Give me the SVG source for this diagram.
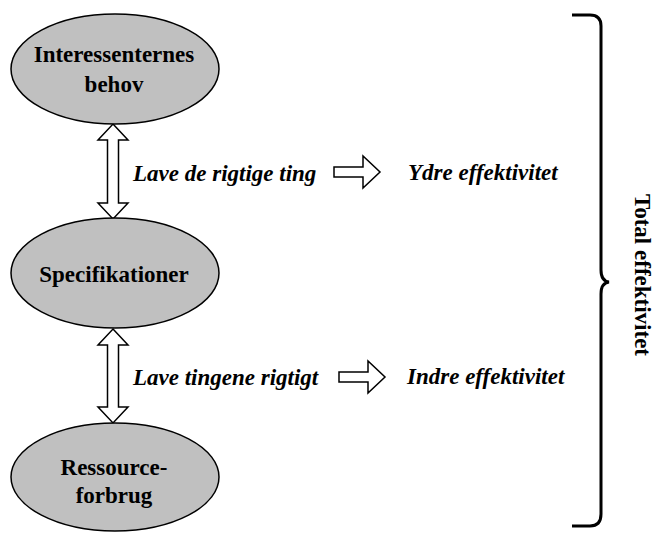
<svg xmlns="http://www.w3.org/2000/svg" width="654" height="535" viewBox="0 0 654 535">
  <style>
    .node { fill: #c0c0c0; stroke: #000; stroke-width: 1.5; }
    .label { font-family: "Liberation Serif", "Times New Roman", serif; font-weight: bold; font-size: 23px; fill: #000; text-anchor: middle; }
    .note { font-family: "Liberation Serif", "Times New Roman", serif; font-weight: bold; font-style: italic; font-size: 23px; fill: #000; }
    .arrow { fill: #fff; stroke: #000; stroke-width: 1.5; stroke-linejoin: miter; }
    .brace { fill: none; stroke: #000; stroke-width: 3; }
  </style>
  <rect width="654" height="535" fill="#fff"/>

  <g id="connectors">
    <!-- double-headed block arrows between the ellipses -->
    <path class="arrow" d="M113,124 L128,140 L118.5,140 L118.5,203 L128,203 L113,219 L98,203 L107.5,203 L107.5,140 L98,140 Z"/>
    <path class="arrow" d="M113,329 L128,345 L118.5,345 L118.5,407 L128,407 L113,423 L98,407 L107.5,407 L107.5,345 L98,345 Z"/>
    <!-- right-pointing block arrows -->
    <path class="arrow" d="M334,167 L363,167 L363,156 L380,172 L363,188 L363,177 L334,177 Z"/>
    <path class="arrow" d="M339,372 L368,372 L368,361 L385,377 L368,393 L368,382 L339,382 Z"/>
  </g>

  <g id="node-interessenter">
    <ellipse class="node" cx="115" cy="69" rx="104" ry="55"/>
    <text class="label" x="114" y="62">Interessenternes</text>
    <text class="label" x="114" y="92">behov</text>
  </g>

  <g id="node-specifikationer">
    <ellipse class="node" cx="115" cy="273" rx="104" ry="55"/>
    <text class="label" x="114" y="282">Specifikationer</text>
  </g>

  <g id="node-ressourceforbrug">
    <ellipse class="node" cx="115" cy="477" rx="104" ry="54"/>
    <text class="label" x="114" y="475">Ressource-</text>
    <text class="label" x="114" y="503">forbrug</text>
  </g>

  <g id="note-ydre">
    <text class="note" x="133" y="181">Lave de rigtige ting</text>
    <text class="note" x="408" y="180">Ydre effektivitet</text>
  </g>

  <g id="note-indre">
    <text class="note" x="133" y="385">Lave tingene rigtigt</text>
    <text class="note" x="407" y="384">Indre effektivitet</text>
  </g>

  <g id="total">
    <path class="brace" d="M572,15 L590,15 Q601,15 601,26 L601,270 Q601,281 609,282 Q601,283 601,294 L601,514 Q601,526 590,526 L572,526"/>
    <text class="label" transform="translate(635,275) rotate(90)" x="0" y="0">Total effektivitet</text>
  </g>
</svg>
